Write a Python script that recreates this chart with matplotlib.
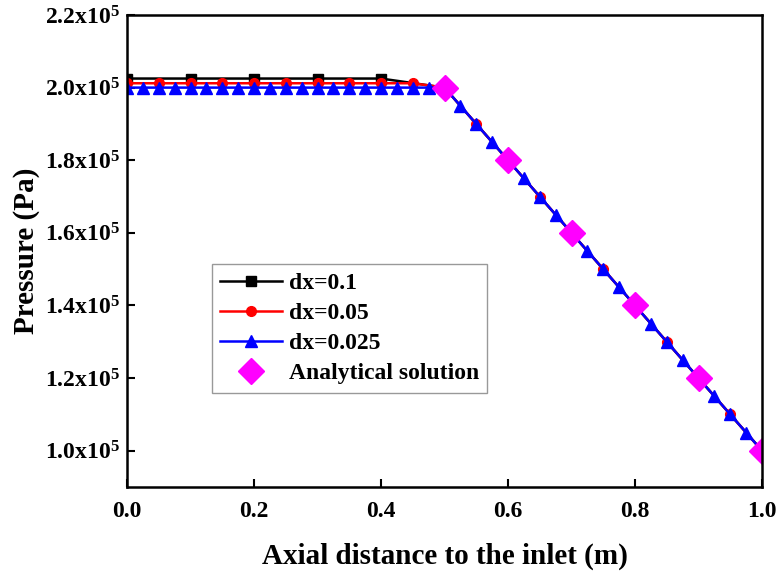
import numpy as np
import matplotlib
matplotlib.use("Agg")
import matplotlib.pyplot as plt
from matplotlib.ticker import FuncFormatter

plt.rcParams['font.family'] = 'Liberation Serif'
plt.rcParams['font.weight'] = 'bold'
plt.rcParams['mathtext.default'] = 'regular'

# dx = 0.1
x_01 = [0.0, 0.1, 0.2, 0.3, 0.4, 0.5, 0.6, 0.7, 0.8, 0.9, 1.0]
p_01 = [2.025e5, 2.025e5, 2.025e5, 2.025e5, 2.025e5, 2.0e5, 1.8e5, 1.6e5, 1.4e5, 1.2e5, 1.0e5]

# dx = 0.05
x_005 = [0.0, 0.05, 0.1, 0.15, 0.2, 0.25, 0.3, 0.35, 0.4, 0.45, 0.5,
         0.55, 0.6, 0.65, 0.7, 0.75, 0.8, 0.85, 0.9, 0.95, 1.0]
p_005 = [2.012e5, 2.012e5, 2.012e5, 2.012e5, 2.012e5, 2.012e5, 2.012e5, 2.012e5, 2.012e5, 2.012e5, 2.0e5,
         1.9e5, 1.8e5, 1.7e5, 1.6e5, 1.5e5, 1.4e5, 1.3e5, 1.2e5, 1.1e5, 1.0e5]

# dx = 0.025
x_0025 = [0.0, 0.025, 0.05, 0.075, 0.1, 0.125, 0.15, 0.175, 0.2, 0.225, 0.25, 0.275, 0.3, 0.325,
          0.35, 0.375, 0.4, 0.425, 0.45, 0.475, 0.5, 0.525, 0.55, 0.575, 0.6, 0.625, 0.65, 0.675,
          0.7, 0.725, 0.75, 0.775, 0.8, 0.825, 0.85, 0.875, 0.9, 0.925, 0.95, 0.975, 1.0]
p_0025 = [2.0e5, 2.0e5, 2.0e5, 2.0e5, 2.0e5, 2.0e5, 2.0e5, 2.0e5, 2.0e5, 2.0e5, 2.0e5, 2.0e5, 2.0e5, 2.0e5,
          2.0e5, 2.0e5, 2.0e5, 2.0e5, 2.0e5, 2.0e5, 2.0e5, 1.95e5, 1.9e5, 1.85e5, 1.8e5, 1.75e5, 1.7e5, 1.65e5,
          1.6e5, 1.55e5, 1.5e5, 1.45e5, 1.4e5, 1.35e5, 1.3e5, 1.25e5, 1.2e5, 1.15e5, 1.1e5, 1.05e5, 1.0e5]

# analytical
x_an = [0.5, 0.6, 0.7, 0.8, 0.9, 1.0]
p_an = [2.0e5, 1.8e5, 1.6e5, 1.4e5, 1.2e5, 1.0e5]

fig = plt.figure(figsize=(7.79, 5.71), dpi=100)
ax = fig.add_axes([127/779, 1-487/571, 635/779, 472/571])

ax.plot(x_01, p_01, color='black', marker='s', markersize=7, linewidth=1.8, label='dx=0.1')
ax.plot(x_005, p_005, color='red', marker='o', markersize=7, linewidth=1.8, label='dx=0.05')
ax.plot(x_0025, p_0025, color='blue', marker='^', markersize=8, linewidth=1.8, label='dx=0.025')
ax.plot(x_an, p_an, color='#ff00ff', marker='D', markersize=13, linestyle='none', label='Analytical solution')

ax.set_xlim(0, 1.0)
ax.set_ylim(0.9e5, 2.2e5)
ax.set_xticks([0.0, 0.2, 0.4, 0.6, 0.8, 1.0])
ax.set_yticks([1.0e5, 1.2e5, 1.4e5, 1.6e5, 1.8e5, 2.0e5, 2.2e5])

def sci_fmt(v, pos):
	return f'{v/1e5:.1f}x10$^5$'
ax.yaxis.set_major_formatter(FuncFormatter(sci_fmt))
ax.xaxis.set_major_formatter(FuncFormatter(lambda v, pos: f'{v:.1f}'))

ax.tick_params(direction='in', length=6, width=1.5, labelsize=17)
ax.tick_params(axis='y', pad=5)
ax.tick_params(axis='x', pad=10)
for s in ax.spines.values():
	s.set_linewidth(1.8)

ax.set_xlabel('Axial distance to the inlet (m)', fontsize=21, fontweight='bold', labelpad=15)
ax.set_ylabel('Pressure (Pa)', fontsize=21, fontweight='bold', labelpad=4)

leg = ax.legend(loc='lower left', bbox_to_anchor=(0.134, 0.20), fontsize=17, frameon=True,
                fancybox=False, edgecolor='gray', handlelength=2.6, handletextpad=0.3,
                borderpad=0.35, labelspacing=0.36, borderaxespad=0)
leg.get_frame().set_linewidth(1.0)

fig.savefig('out.png', dpi=100)
